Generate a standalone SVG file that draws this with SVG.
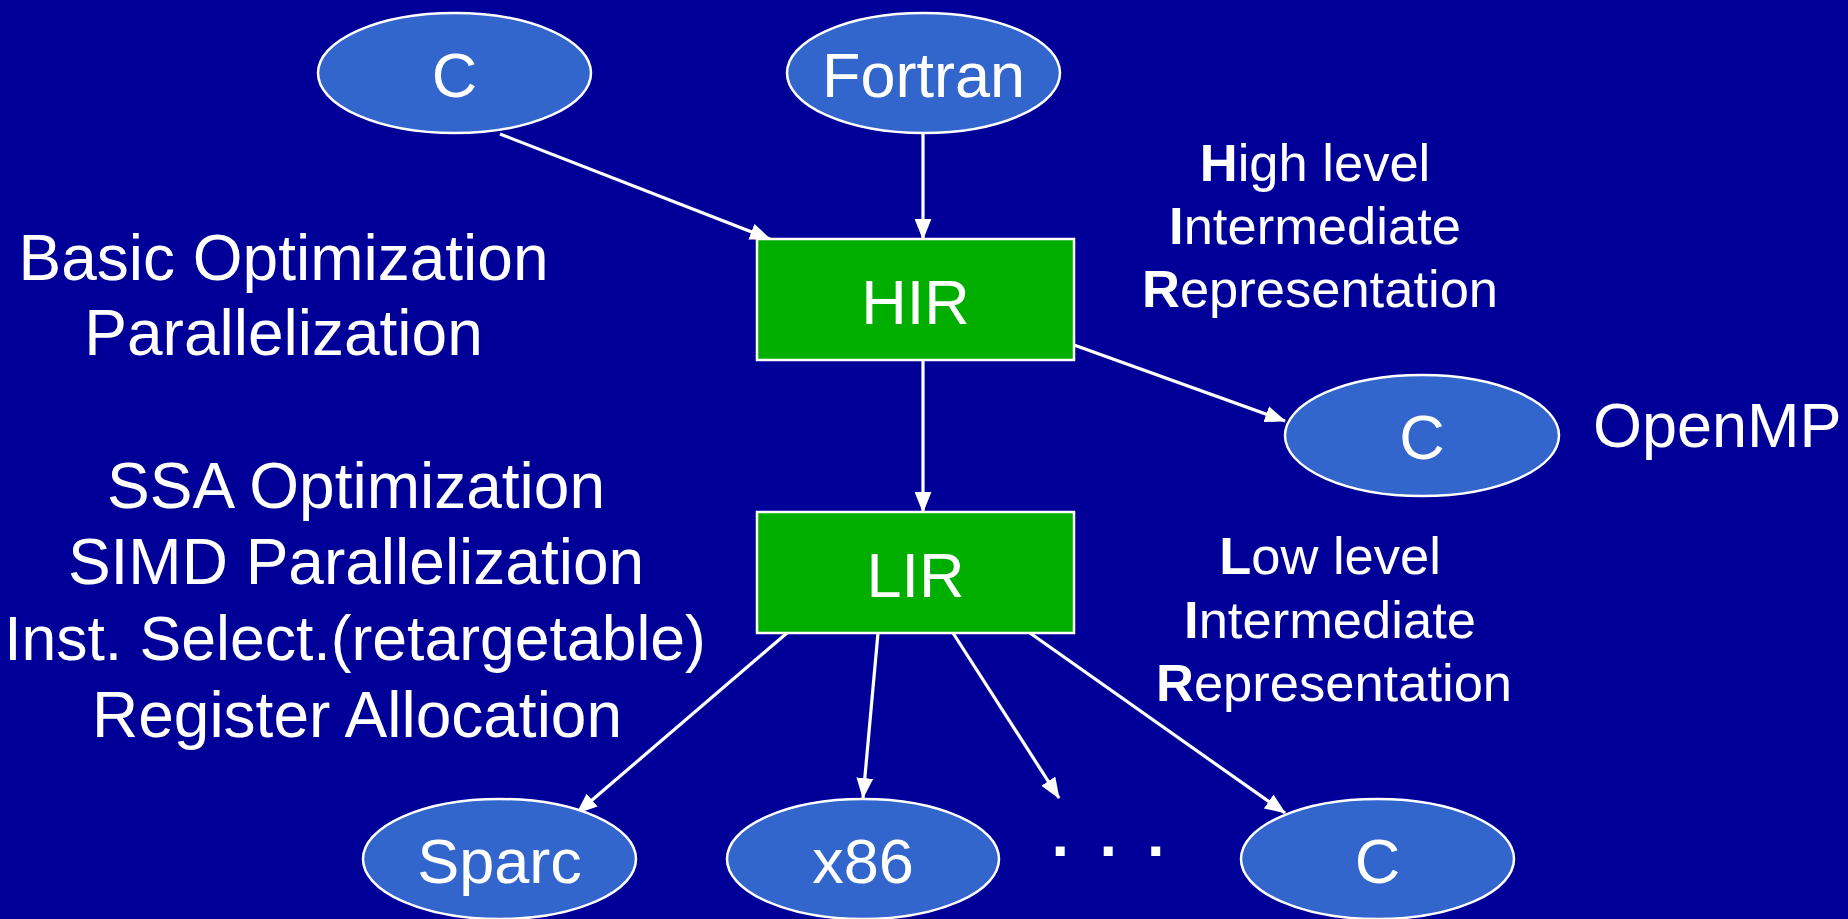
<svg xmlns="http://www.w3.org/2000/svg" width="1848" height="919" viewBox="0 0 1848 919">
<style>
.ell{fill:#3366CC;stroke:#FFFFFF;stroke-width:2.5}
.box{fill:#00AE00;stroke:#FFFFFF;stroke-width:2.5}
.t{font-family:"Liberation Sans",Arial,sans-serif;fill:#FFFFFF;font-size:63px;text-anchor:middle}
.l{font-size:64px}
.s{font-family:"Liberation Sans",Arial,sans-serif;fill:#FFFFFF;font-size:52.5px;text-anchor:middle}
.b{font-weight:bold}
.c{stroke:#FFFFFF;stroke-width:3.2;fill:none;marker-end:url(#ah)}
</style>
<defs>
<marker id="ah" viewBox="0 0 20 16" refX="19" refY="8" markerWidth="21" markerHeight="17" markerUnits="userSpaceOnUse" orient="auto">
<path d="M0,0 L20,8 L0,16 z" fill="#FFFFFF"/>
</marker>
</defs>
<rect x="0" y="0" width="1848" height="919" fill="#000099"/>
<g id="connectors">
<line class="c" x1="500" y1="134" x2="770" y2="239"/>
<line class="c" x1="923" y1="134" x2="923" y2="239"/>
<line class="c" x1="923" y1="360" x2="923" y2="512"/>
<line class="c" x1="1074" y1="345" x2="1285" y2="421"/>
<line class="c" x1="787" y1="633" x2="577" y2="813"/>
<line class="c" x1="878" y1="633" x2="863" y2="798"/>
<line class="c" x1="953" y1="633" x2="1059" y2="798"/>
<line class="c" x1="1030" y1="633" x2="1285" y2="813"/>
</g>
<g id="c-top">
<ellipse class="ell" cx="454.5" cy="73" rx="136.5" ry="60"/>
<text class="t" x="454.5" y="97">C</text>
</g>
<g id="fortran">
<ellipse class="ell" cx="923.5" cy="73" rx="136.5" ry="60"/>
<text class="t" x="923.5" y="97">Fortran</text>
</g>
<g id="hir">
<rect class="box" x="757" y="239" width="317" height="121"/>
<text class="t" x="915.5" y="324">HIR</text>
</g>
<g id="lir">
<rect class="box" x="757" y="512" width="317" height="121"/>
<text class="t" x="915.5" y="597">LIR</text>
</g>
<g id="c-openmp">
<ellipse class="ell" cx="1422" cy="435.5" rx="137" ry="60.5"/>
<text class="t" x="1422" y="459">C</text>
</g>
<g id="sparc">
<ellipse class="ell" cx="499.5" cy="859" rx="136.5" ry="60"/>
<text class="t" x="499.5" y="883">Sparc</text>
</g>
<g id="x86">
<ellipse class="ell" cx="863" cy="859" rx="136" ry="60"/>
<text class="t" x="863" y="883">x86</text>
</g>
<g id="c-bottom">
<ellipse class="ell" cx="1377.5" cy="859" rx="136.5" ry="60"/>
<text class="t" x="1377.5" y="883">C</text>
</g>
<g id="dots">
<text class="t b" style="text-anchor:start" x="1051.5 1099.5 1147" y="856">...</text>
</g>
<g id="labels">
<text class="t" style="text-anchor:start" x="1593" y="447">OpenMP</text>
<text class="s" x="1315" y="181"><tspan class="b">H</tspan>igh level</text>
<text class="s" x="1315" y="244"><tspan class="b">I</tspan>ntermediate</text>
<text class="s" x="1320" y="307"><tspan class="b">R</tspan>epresentation</text>
<text class="s" x="1330" y="574"><tspan class="b">L</tspan>ow level</text>
<text class="s" x="1330" y="638"><tspan class="b">I</tspan>ntermediate</text>
<text class="s" x="1334" y="701"><tspan class="b">R</tspan>epresentation</text>
<text class="t l" x="283.5" y="280">Basic Optimization</text>
<text class="t l" x="283.5" y="355">Parallelization</text>
<text class="t l" x="356" y="508">SSA Optimization</text>
<text class="t l" x="356" y="584">SIMD Parallelization</text>
<text class="t" style="font-size:62.5px" x="355" y="660">Inst. Select.(retargetable)</text>
<text class="t l" x="357" y="737">Register Allocation</text>
</g>
</svg>
